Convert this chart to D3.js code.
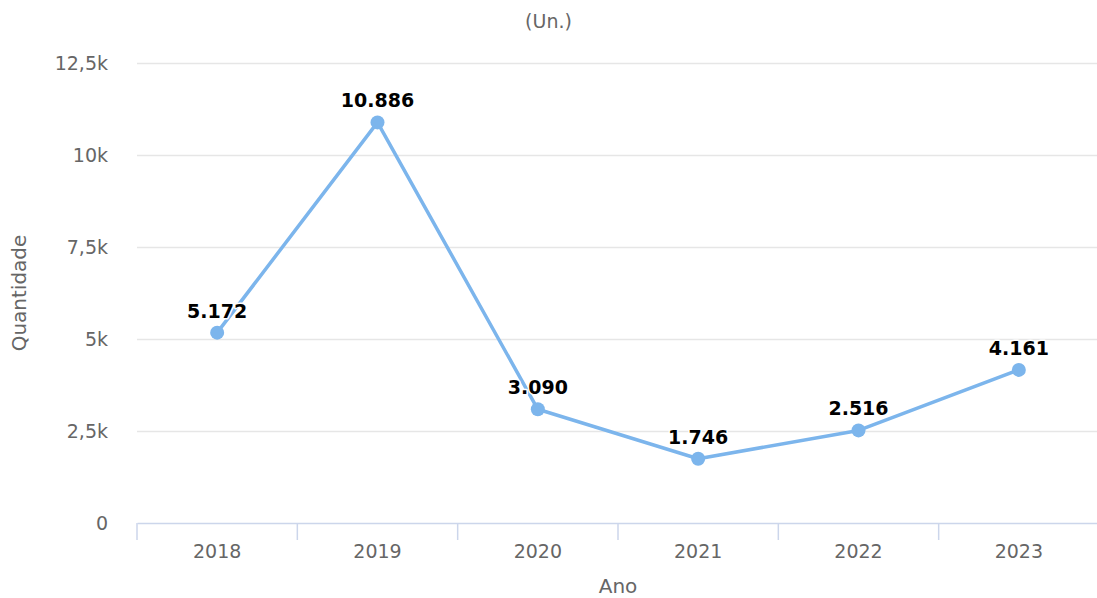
<!DOCTYPE html>
<html>
<head>
<meta charset="utf-8">
<script src="https://cdn.jsdelivr.net/npm/d3@7"></script>
<style>
  body { margin: 0; background: #fff; }
  svg { display: block; }
  svg text { font-family: 'DejaVu Sans', Verdana, sans-serif; }
</style>
</head>
<body>
<svg id="chart" width="1097" height="598"></svg>
<script>
const years = ['2018', '2019', '2020', '2021', '2022', '2023'];
const quantities = [5172, 10886, 3090, 1746, 2516, 4161];
const yTicks = [0, 2500, 5000, 7500, 10000, 12500];
const yTickLabels = ['0', '2,5k', '5k', '7,5k', '10k', '12,5k'];

const svg = d3.select('#chart');
const W = 1097, H = 598;
const margin = { top: 63, right: -2, bottom: 75, left: 137 };
const plotW = W - margin.left - margin.right;
const plotH = H - margin.top - margin.bottom;

const x = d3.scaleBand().domain(years).range([0, plotW]);
const y = d3.scaleLinear().domain([0, 12500]).range([plotH, 0]);

const locale = d3.formatLocale({ decimal: ',', thousands: '.', grouping: [3], currency: ['R$', ''] });
const fmt = locale.format(',d');

const g = svg.append('g').attr('transform', `translate(${margin.left},${margin.top})`);

// grid
g.selectAll('.grid').data(yTicks.slice(1)).enter()
  .append('line')
  .attr('x1', 0).attr('x2', plotW)
  .attr('y1', d => y(d) + 0.5).attr('y2', d => y(d) + 0.5)
  .attr('stroke', '#e6e6e6').attr('stroke-width', 1.5);

// y labels
g.selectAll('.ylab').data(yTicks).enter()
  .append('text')
  .attr('x', -29).attr('y', d => y(d))
  .attr('dy', '0.35em')
  .attr('text-anchor', 'end')
  .attr('fill', '#666').attr('font-size', 19)
  .text((d, i) => yTickLabels[i]);

// x axis
const xAxis = g.append('g')
  .attr('transform', `translate(0,${plotH})`)
  .call(d3.axisBottom(x).tickValues([]).tickSizeOuter(0));
xAxis.select('.domain').attr('stroke', '#ccd6eb').attr('stroke-width', 1.5);

const bounds = years.map(d => x(d)).concat([plotW]);
xAxis.selectAll('.tk').data(bounds).enter()
  .append('line')
  .attr('x1', d => d).attr('x2', d => d)
  .attr('y1', 0).attr('y2', 17)
  .attr('stroke', '#ccd6eb').attr('stroke-width', 1.5);

xAxis.selectAll('.xlab').data(years).enter()
  .append('text')
  .attr('x', d => x(d) + x.bandwidth() / 2)
  .attr('y', 35)
  .attr('text-anchor', 'middle')
  .attr('fill', '#666').attr('font-size', 19)
  .text(d => d);

// line
const line = d3.line()
  .x((d, i) => x(years[i]) + x.bandwidth() / 2)
  .y(d => y(d));

g.append('path')
  .datum(quantities)
  .attr('d', line)
  .attr('fill', 'none')
  .attr('stroke', '#7cb5ec')
  .attr('stroke-width', 3.5)
  .attr('stroke-linejoin', 'round');

g.selectAll('.pt').data(quantities).enter()
  .append('circle')
  .attr('cx', (d, i) => x(years[i]) + x.bandwidth() / 2)
  .attr('cy', d => y(d))
  .attr('r', 7)
  .attr('fill', '#7cb5ec');

// data labels
g.selectAll('.dl').data(quantities).enter()
  .append('text')
  .attr('x', (d, i) => x(years[i]) + x.bandwidth() / 2)
  .attr('y', d => y(d) - 15)
  .attr('text-anchor', 'middle')
  .attr('font-size', 19).attr('font-weight', 'bold')
  .attr('fill', '#000')
  .attr('stroke', '#fff').attr('stroke-width', 3).attr('paint-order', 'stroke')
  .attr('stroke-linejoin', 'round')
  .text(d => fmt(d));

// titles
svg.append('text')
  .attr('x', W / 2).attr('y', 28)
  .attr('text-anchor', 'middle')
  .attr('fill', '#666').attr('font-size', 19)
  .text('(Un.)');

svg.append('text')
  .attr('x', margin.left + plotW / 2).attr('y', 593)
  .attr('text-anchor', 'middle')
  .attr('fill', '#666').attr('font-size', 20)
  .text('Ano');

svg.append('text')
  .attr('transform', `translate(26,${margin.top + plotH / 2}) rotate(-90)`)
  .attr('text-anchor', 'middle')
  .attr('fill', '#666').attr('font-size', 20)
  .text('Quantidade');
</script>
</body>
</html>
